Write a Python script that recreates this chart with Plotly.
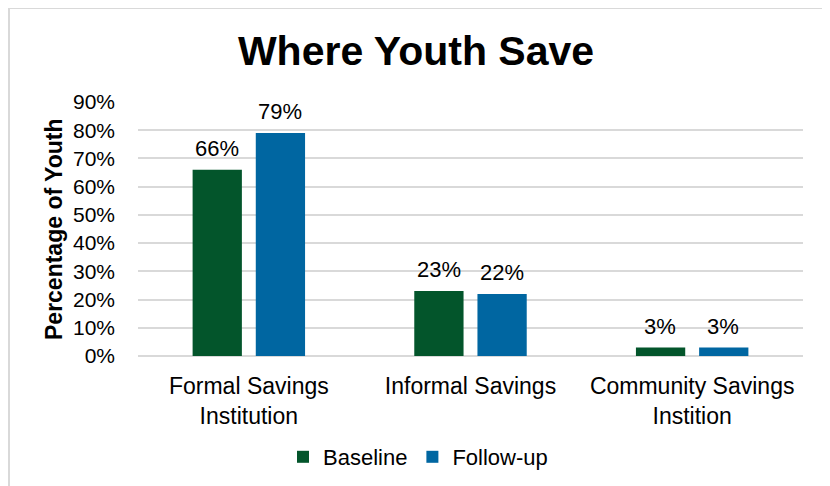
import plotly.graph_objects as go

categories = ["Formal Savings<br>Institution", "Informal Savings", "Community Savings<br>Instition"]
baseline = [0.66, 0.23, 0.03]
followup = [0.79, 0.22, 0.03]
series_names = ["Baseline", "Follow-up"]
y_ticks = [0, 0.1, 0.2, 0.3, 0.4, 0.5, 0.6, 0.7, 0.8, 0.9]

FONT = "Liberation Sans, Arial, sans-serif"
OFF = 8  # page body margin
W, H = 830 - OFF, 486 - OFF
# target positions in screenshot pixels
plot_l, plot_r, plot_t, plot_b = 138, 803, 102, 356
ml, mr, mt, mb = plot_l - OFF, W - (plot_r - OFF), plot_t - OFF, H - (plot_b - OFF)
pw, ph = W - ml - mr, H - mt - mb

def px(x):
    return (x - OFF - ml) / pw

def py(y):
    return (H - mb - (y - OFF)) / ph

colors = ["#03552B", "#0066A1"]
series = [baseline, followup]
shifts = [-32, 31]

fig = go.Figure()
annotations = []
for name, vals, col, sh in zip(series_names, series, colors, shifts):
    fig.add_trace(go.Bar(
        x=categories, y=vals, name=name, marker=dict(color=col, line=dict(width=0)),
    ))
    for c, v in zip(categories, vals):
        annotations.append(dict(x=c, y=v, xref="x", yref="y", text=f"{round(v*100)}%",
                                showarrow=False, xanchor="center", yanchor="bottom",
                                xshift=sh, yshift=7,
                                font=dict(size=22, color="#000000", family=FONT)))

annotations.append(dict(text="<b>Percentage of Youth</b>", xref="paper", yref="paper",
                        x=px(54), y=py(229), xanchor="center", yanchor="middle", textangle=-90,
                        showarrow=False, font=dict(size=23, family=FONT, color="#000000")))

fig.update_layout(
    width=W, height=H,
    margin=dict(l=ml, r=mr, t=mt, b=mb, autoexpand=False),
    paper_bgcolor="white", plot_bgcolor="white",
    font=dict(family=FONT, color="#000000"),
    title=dict(text="<b>Where Youth Save</b>", x=(416 - OFF) / W, xanchor="center", xref="container",
               y=1 - (51 - OFF) / H, yanchor="middle",
               font=dict(size=41, family=FONT, color="#000000")),
    barmode="group", bargap=0.43, bargroupgap=0.22,
    showlegend=True,
    legend=dict(orientation="h", x=(418 - OFF) / W, xanchor="center", xref="container",
                y=1 - (457 - OFF) / H, yref="container",
                yanchor="middle", font=dict(size=22, family=FONT, color="#000000"),
                traceorder="normal"),
    xaxis=dict(tickfont=dict(size=23, family=FONT, color="#000000"), showline=False, ticks="",
               automargin=False, ticklabelstandoff=14),
    yaxis=dict(range=[0, 0.9], tickvals=y_ticks, tickformat=".0%", showgrid=True, automargin=False,
               gridcolor="#D9D9D9", gridwidth=1.5, zeroline=True, zerolinecolor="#D9D9D9", zerolinewidth=1.5,
               tickfont=dict(size=21, family=FONT, color="#000000"), ticks="", ticklabelstandoff=22),
    annotations=annotations,
    shapes=[dict(type="rect", xref="paper", yref="paper", x0=px(9), x1=px(823), y0=py(530), y1=py(8),
                 line=dict(color="#D9D9D9", width=2), fillcolor="rgba(0,0,0,0)", layer="below")],
)

fig.write_html("out.html")
